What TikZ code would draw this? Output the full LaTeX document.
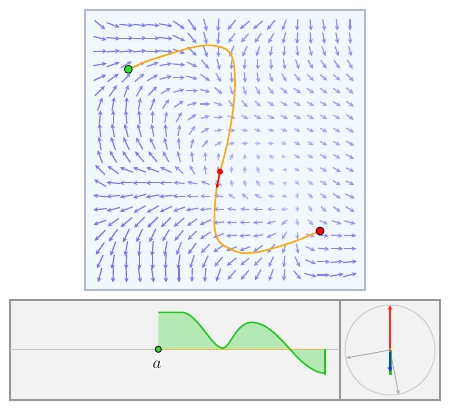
\documentclass[tikz,border=0pt]{standalone}
\usetikzlibrary{arrows.meta}
\definecolor{fieldc}{RGB}{95,95,238}
\definecolor{panelblue}{RGB}{242,248,255}
\definecolor{paneledge}{RGB}{180,184,216}
\definecolor{pathorange}{RGB}{255,170,0}
\definecolor{axisorange}{RGB}{240,185,70}
\definecolor{intgreen}{RGB}{30,200,30}
\definecolor{intfillc}{RGB}{180,232,180}
\definecolor{dotgreen}{RGB}{40,230,40}
\definecolor{greydot}{RGB}{242,242,242}
\definecolor{boxedge}{RGB}{150,150,150}
\definecolor{vecred}{RGB}{255,40,40}
\definecolor{vecblue}{RGB}{20,50,255}
\definecolor{vecgray}{RGB}{170,170,170}
\tikzset{
  fieldarrow/.style={line width=1.15pt,-{Stealth[length=4.8pt,width=4.4pt]}},
  pathline/.style={draw=pathorange,line width=1.6pt,line cap=round},
  dotnode/.style={circle,draw=black,line width=0.7pt,inner sep=0pt,minimum size=#1},
  vecarrow/.style={line width=1.3pt,-{Stealth[length=5pt,width=4.5pt]}},
  thinvec/.style={draw=vecgray,line width=0.8pt,-{Stealth[length=4.5pt,width=3.5pt]}},
}
\newcommand\fieldrow[2]{%
  \foreach \a/\l [count=\i from 0] in {#2} {%
    \pgfmathsetmacro\cx{100+13.16*\i}%
    \pgfmathsetmacro\cy{385-13.16*#1}%
    \pgfmathsetmacro\xa{\cx-0.575*\l*cos(\a)}%
    \pgfmathsetmacro\ya{\cy-0.575*\l*sin(\a)}%
    \pgfmathsetmacro\xb{\cx+0.575*\l*cos(\a)}%
    \pgfmathsetmacro\yb{\cy+0.575*\l*sin(\a)}%
    \pgfmathtruncatemacro\pct{42+5*(\l-4)}%
    \draw[fieldarrow,draw=fieldc!\pct!white,fill=fieldc!\pct!white] (\xa,\ya) -- (\xb,\yb);
  }%
}
\begin{document}
\begin{tikzpicture}[x=1pt,y=1pt]
\useasboundingbox (0,0) rectangle (450,410);
% top panel
\draw[fill=panelblue,draw=paneledge,line width=1.4pt] (85,120) rectangle (365,400);
\fieldrow{0}{-40/12,-20/12,-5/12,-5/12,-5/12,-10/12,-35/12,-55/12,-75/11,-95/11,-130/11,-140/11,-140/11,-130/11,-110/10,-95/10,-85/10,-80/10,-85/10,-90/10}
\fieldrow{1}{-15/12,-5/12,0/12,0/12,0/12,-5/12,-25/12,-50/12,-75/11,-95/11,-125/10,-130/10,-125/10,-120/10,-105/10,-95/10,-85/10,-80/10,-80/10,-85/10}
\fieldrow{2}{0/12,5/12,5/12,5/12,0/12,-5/12,-20/11,-45/11,-70/11,-90/10,-115/10,-115/10,-110/9,-100/9,-95/9,-85/9,-75/9,-70/9,-70/9,-75/9}
\fieldrow{3}{10/12,20/12,30/11,25/11,20/11,10/11,-5/11,-25/10,-50/10,-75/10,-95/9,-95/9,-90/9,-85/9,-80/9,-70/9,-60/9,-55/9,-55/9,-60/9}
\fieldrow{4}{25/12,35/12,45/11,40/11,30/11,15/11,0/10,-15/10,-35/10,-60/9,-85/9,-85/9,-80/9,-70/8,-60/8,-50/8,-45/8,-40/8,-40/8,-45/9}
\fieldrow{5}{45/12,55/12,70/11,60/11,45/11,30/10,15/10,0/10,-15/9,-40/9,-70/8,-70/8,-60/8,-50/8,-40/8,-35/8,-35/8,-35/8,-35/8,-40/8}
\fieldrow{6}{70/12,80/12,85/12,80/11,70/11,55/10,35/10,15/9,0/9,-20/8,-50/8,-50/8,-45/7,-35/7,-30/7,-30/7,-30/7,-30/7,-30/8,-35/8}
\fieldrow{7}{85/12,90/12,95/12,95/12,90/11,80/10,60/10,35/9,15/8,0/8,-20/7,-25/7,-25/7,-25/7,-25/7,-25/7,-30/7,-30/7,-30/7,-35/8}
\fieldrow{8}{95/12,100/12,105/12,105/12,100/11,95/11,80/10,55/9,30/8,10/7,-5/7,-10/6,-15/6,-15/6,-20/6,-25/6,-25/7,-30/7,-30/7,-30/8}
\fieldrow{9}{100/12,110/12,115/12,120/12,115/11,105/11,95/10,75/9,50/8,30/7,15/6,5/6,0/5,-5/5,-15/5,-25/6,-30/6,-30/7,-30/7,-30/8}
\fieldrow{10}{110/12,120/12,125/12,130/12,130/12,120/11,105/10,95/9,90/8,85/7,65/6,90/5,125/5,145/5,-10/4,-30/6,-30/6,-30/7,-30/7,-30/8}
\fieldrow{11}{135/12,145/12,160/12,160/12,160/12,155/11,140/10,120/9,100/8,95/7,90/6,95/6,110/6,150/5,180/4,-30/5,-30/6,-30/7,-30/8,-25/8}
\fieldrow{12}{150/12,175/12,180/12,180/12,180/12,180/11,175/10,170/9,160/8,140/7,100/6,105/6,125/6,155/6,150/4,-45/5,-35/6,-30/7,-30/8,-25/8}
\fieldrow{13}{175/12,185/12,190/12,195/12,190/12,185/12,180/11,180/10,180/9,170/8,145/7,140/7,150/7,170/6,180/5,-80/5,-45/6,-35/7,-30/8,-25/9}
\fieldrow{14}{185/12,195/12,200/12,210/12,210/12,205/12,200/11,190/11,185/10,180/9,170/8,175/8,180/8,180/7,185/6,-90/5,-60/6,-45/7,-35/8,-30/9}
\fieldrow{15}{200/12,215/12,220/13,225/13,225/13,225/12,220/12,215/11,205/11,185/10,180/9,180/9,185/9,195/8,220/7,-80/6,-45/7,-25/8,-20/9,-15/10}
\fieldrow{16}{225/13,235/13,245/13,245/13,245/13,240/12,230/12,225/11,215/11,200/10,185/10,185/10,190/9,205/9,235/8,-90/7,-20/8,-5/9,-5/10,0/11}
\fieldrow{17}{235/13,250/13,260/13,265/13,265/13,260/13,250/12,235/12,225/11,215/11,200/10,200/10,215/10,230/10,250/9,-80/9,-25/9,-5/10,0/11,0/11}
\fieldrow{18}{245/13,260/13,268/13,270/13,270/13,268/13,262/13,252/12,245/12,230/11,220/11,220/10,225/10,245/10,265/10,-65/10,-20/10,0/11,5/11,5/12}
\fieldrow{19}{255/13,268/13,272/13,278/13,278/13,272/13,270/13,268/12,265/12,250/12,230/11,230/11,240/11,250/11,265/10,-50/10,-15/11,0/11,10/12,15/12}
% path
\coordinate (sp) at (128.3,340.7);
\coordinate (ep) at (320,179);
\draw[pathline] plot[smooth,tension=0.6] coordinates {(128.3,340.7) (145,348) (163,354) (190,362) (205,364.5) (216,364) (227,360) (233,350) (235,327) (233,300) (228,270) (224,253) (220,238) (216.7,222) (215,205) (214.5,185) (217,172) (223,165) (235,159) (243,157) (255,157.5) (267,160) (293,168) (320,179)};
\node[dotnode=8pt,fill=dotgreen] (s) at (sp) {};
\node[dotnode=8pt,fill=red] (e) at (ep) {};
\node[circle,fill=red,inner sep=0pt,minimum size=6pt] (p) at (220,238.3) {};
\coordinate (ptip) at (216.7,221.5);
\draw[vecarrow,draw=red,fill=red] (p.center) -- (ptip);
% bottom panel
\draw[fill=greydot,draw=boxedge,line width=1.3pt] (10,10) rectangle (440,110);
\draw[draw=boxedge,line width=1.3pt] (340,10) -- (340,110);
\coordinate (axl) at (10,60.7);
\coordinate (axr) at (340,60.7);
\draw[draw=black!22,line width=1pt] (axl) -- (axr);
\def\integrand{(158.3,97.7) -- (181.7,97.7) .. controls (197,97.7) and (212,61.8) .. (222.8,61.8) .. controls (230,61.8) and (236,87.7) .. (252,87.7) .. controls (266,87.7) and (280,72) .. (290,60.7) .. controls (300,49) and (313,37) .. (325,36.7)}
\fill[intfillc] \integrand -- (325,60.7) -- (158.3,60.7) -- cycle;
\coordinate (ob) at (325,60.7);
\coordinate (ot) at (325,35.5);
\node[dotnode=6pt,fill=dotgreen] (a) at (158.3,60.7) {};
\draw[draw=axisorange,line width=1.3pt] (a) -- (ob);
\draw[draw=intgreen,line width=1.5pt] \integrand;
\draw[draw=intgreen,line width=2.8pt] (ob) -- (ot);
\node[dotnode=6pt,fill=dotgreen] at (a) {};
\node[fill=white,inner sep=0.6pt,rounded corners=2pt,font=\fontsize{17}{18}\selectfont] (alab) at (157,45.5) {$a$};
% right panel
\node[circle,draw=black!20,line width=0.9pt,minimum size=90pt,inner sep=0pt] (c) at (390,60) {};
\coordinate (o) at (390,60);
\coordinate (g1) at (346,52);
\coordinate (g2) at (398.7,15.5);
\coordinate (rt) at (390,105);
\coordinate (bt) at (390,38);
\coordinate (gt) at (390,35.3);
\draw[thinvec,fill=vecgray] (o) -- (g1);
\draw[thinvec,fill=vecgray] (o) -- (g2);
\draw[draw=intgreen,line width=3pt] (o) -- (gt);
\draw[vecarrow,draw=vecred,fill=vecred] (o) -- (rt);
\draw[vecarrow,draw=vecblue,fill=vecblue] (o) -- (bt);
\node[circle,draw=axisorange,line width=0.7pt,inner sep=0pt,minimum size=3pt] (oc) at (o) {};
\end{tikzpicture}
\end{document}
